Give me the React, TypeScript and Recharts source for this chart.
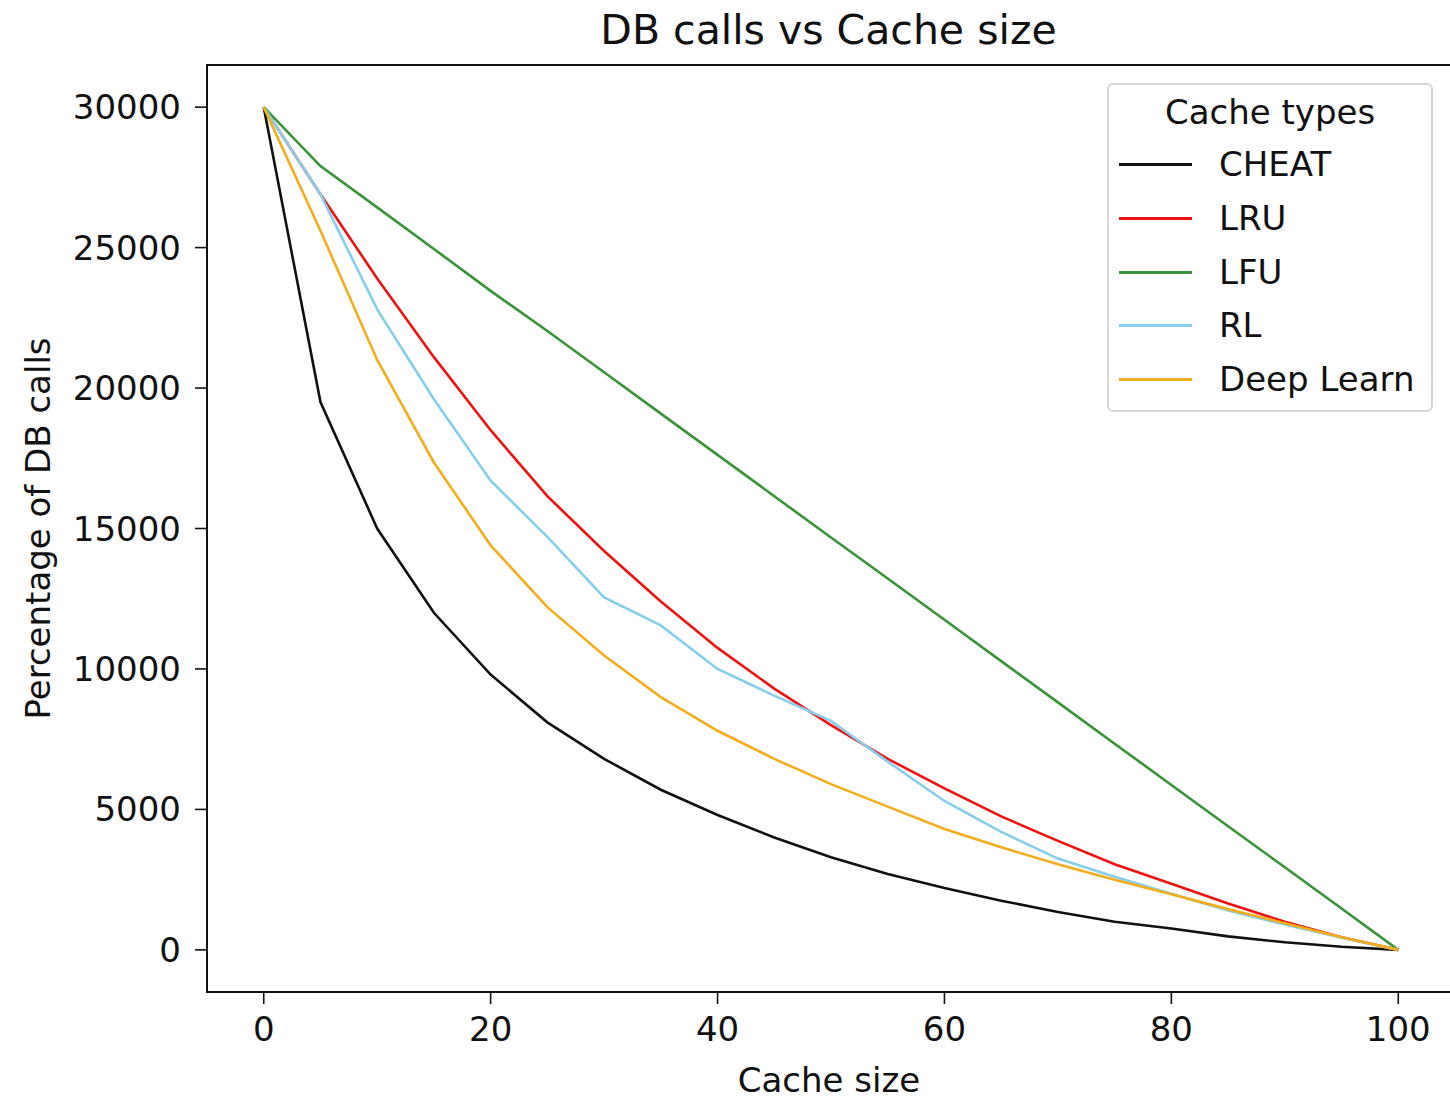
import React from 'react';
import { LineChart, Line, XAxis, YAxis, ReferenceArea, Legend } from 'recharts';

const cacheSizes = [0, 5, 10, 15, 20, 25, 30, 35, 40, 45, 50, 55, 60, 65, 70, 75, 80, 85, 90, 95, 100];
const cheat = [30000, 19500, 15000, 12000, 9800, 8100, 6800, 5700, 4800, 4000, 3300, 2700, 2200, 1750, 1350, 1000, 760, 480, 270, 110, 0];
const lru = [30000, 26900, 23900, 21100, 18500, 16150, 14200, 12400, 10750, 9300, 8000, 6800, 5750, 4750, 3880, 3050, 2350, 1650, 1000, 450, 0];
const lfu = [30000, 27900, 26430, 24950, 23460, 22030, 20560, 19090, 17620, 16150, 14680, 13220, 11750, 10280, 8810, 7340, 5870, 4400, 2940, 1470, 0];
const rl = [30000, 26900, 22800, 19600, 16700, 14700, 12550, 11550, 10000, 9050, 8150, 6700, 5300, 4200, 3250, 2600, 2000, 1400, 900, 430, 0];
const deepLearn = [30000, 25600, 21000, 17350, 14400, 12200, 10480, 9000, 7800, 6800, 5900, 5100, 4300, 3650, 3050, 2500, 1980, 1450, 950, 450, 0];

const seriesNames = ['CHEAT', 'LRU', 'LFU', 'RL', 'Deep Learn'];
const seriesKeys = ['cheat', 'lru', 'lfu', 'rl', 'deep'];
const seriesColors = ['#111111', '#ee1111', '#3a923a', '#87ceeb', '#f2ae1c'];
const xTicks = [0, 20, 40, 60, 80, 100];
const yTicks = [0, 5000, 10000, 15000, 20000, 25000, 30000];
const xDomain = [-5, 105];
const yDomain = [-1500, 31500];

const data = cacheSizes.map((x, i) => ({
  x,
  cheat: cheat[i],
  lru: lru[i],
  lfu: lfu[i],
  rl: rl[i],
  deep: deepLearn[i],
}));

const FONT = '"DejaVu Sans", sans-serif';

const YLabel = (props: any) => {
  const vb = props.viewBox || { x: 0, y: 65, width: 207, height: 927 };
  const cx = 38;
  const cy = vb.y + vb.height / 2;
  return (
    <text
      x={cx}
      y={cy}
      transform={`rotate(-90 ${cx} ${cy})`}
      textAnchor="middle"
      dominantBaseline="central"
      fontFamily={FONT}
      fontSize={34}
      fill="#111"
    >
      Percentage of DB calls
    </text>
  );
};

const XLabel = () => {
  const cx = 829;
  return (
    <text
      x={cx}
      y={1080}
      textAnchor="middle"
      dominantBaseline="central"
      fontFamily={FONT}
      fontSize={34}
      fill="#111"
    >
      Cache size
    </text>
  );
};

const LegendBox = () => {
  const rowCenters = [81, 135, 189, 242, 296];
  return (
    <div
      style={{
        position: 'relative',
        width: 326,
        height: 329,
        boxSizing: 'border-box',
        border: '2px solid #d6d6d6',
        borderRadius: 6,
        background: 'rgba(255,255,255,0.85)',
        fontFamily: FONT,
        fontSize: 34,
        color: '#111',
      }}
    >
      <div
        style={{
          position: 'absolute',
          left: 0,
          width: '100%',
          top: 7,
          height: 40,
          lineHeight: '40px',
          textAlign: 'center',
        }}
      >
        Cache types
      </div>
      {seriesNames.map((name, i) => (
        <div
          key={name}
          style={{
            position: 'absolute',
            left: 0,
            top: rowCenters[i] - 22,
            height: 40,
            display: 'flex',
            alignItems: 'center',
            whiteSpace: 'nowrap',
          }}
        >
          <div style={{ marginLeft: 10, width: 73, height: 3, background: seriesColors[i] }} />
          <div style={{ marginLeft: 27 }}>{name}</div>
        </div>
      ))}
    </div>
  );
};

export default function App() {
  return (
    <div
      style={{
        position: 'absolute',
        left: 0,
        top: 0,
        width: 1450,
        height: 1100,
        overflow: 'hidden',
        background: '#fff',
      }}
    >
      <div
        style={{
          position: 'absolute',
          left: 207,
          width: 1243,
          top: 8,
          height: 44,
          lineHeight: '44px',
          textAlign: 'center',
          fontFamily: FONT,
          fontSize: 41,
          color: '#111',
        }}
      >
        DB calls vs Cache size
      </div>
      <LineChart
        width={1456}
        height={1100}
        data={data}
        margin={{ top: 65, right: 1, bottom: 0, left: 0 }}
        style={{ position: 'absolute', left: 0, top: 0 }}
      >
        <XAxis
          dataKey="x"
          type="number"
          domain={xDomain}
          ticks={xTicks}
          allowDataOverflow
          height={108}
          tickSize={12}
          tickMargin={13}
          axisLine={false}
          tickLine={{ stroke: '#111', strokeWidth: 1.6 }}
          tick={{ fontFamily: FONT, fontSize: 34, fill: '#111' }}
          label={<XLabel />}
        />
        <YAxis
          type="number"
          domain={yDomain}
          ticks={yTicks}
          allowDataOverflow
          width={207}
          tickSize={12}
          tickMargin={14}
          axisLine={false}
          tickLine={{ stroke: '#111', strokeWidth: 1.6 }}
          tick={{ fontFamily: FONT, fontSize: 34, fill: '#111' }}
          label={<YLabel />}
        />
        <ReferenceArea
          x1={xDomain[0]}
          x2={xDomain[1]}
          y1={yDomain[0]}
          y2={yDomain[1]}
          fill="none"
          fillOpacity={0}
          stroke="#111"
          strokeWidth={2}
          ifOverflow="visible"
        />
        {seriesKeys.map((k, i) => (
          <Line
            key={k}
            type="linear"
            dataKey={k}
            name={seriesNames[i]}
            stroke={seriesColors[i]}
            strokeWidth={2.6}
            dot={false}
            activeDot={false}
            isAnimationActive={false}
          />
        ))}
        <Legend
          layout="vertical"
          align="center"
          verticalAlign="middle"
          content={<LegendBox />}
          wrapperStyle={{ left: 1107, top: 83, width: 326, height: 329 }}
        />
      </LineChart>
    </div>
  );
}
